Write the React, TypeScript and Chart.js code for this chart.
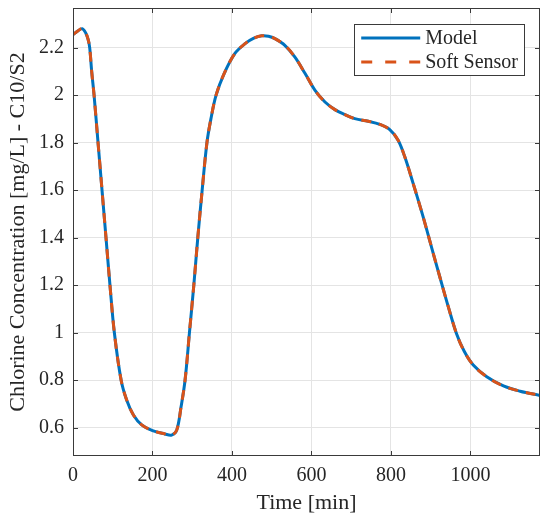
import React, { useEffect, useRef } from "react";
import { Chart, registerables } from "chart.js";

Chart.register(...registerables);

// ---- data ----
const timeMin = [
  0, 12, 23, 32, 38, 42, 47, 53, 63, 73, 83, 93, 104, 121, 135, 152, 173, 200, 231, 248,
  261, 272, 282, 293, 304, 314, 325, 337, 347, 360, 380, 407, 433, 455, 475, 492, 508,
  533, 558, 584, 609, 634, 659, 684, 709, 743, 772, 797, 818, 835, 856, 881, 902, 923,
  944, 965, 984, 1007, 1041, 1083, 1125, 1175,
];
const modelValues = [
  2.255, 2.27, 2.28, 2.262, 2.235, 2.2, 2.1, 2.0, 1.8, 1.6, 1.4, 1.2, 1.0, 0.8, 0.716,
  0.653, 0.611, 0.587, 0.573, 0.568, 0.589, 0.688, 0.8, 1.0, 1.2, 1.4, 1.6, 1.8, 1.9, 2.0,
  2.09, 2.175, 2.217, 2.24, 2.25, 2.248, 2.238, 2.21, 2.161, 2.091, 2.02, 1.971, 1.939,
  1.918, 1.901, 1.89, 1.877, 1.855, 1.81, 1.739, 1.627, 1.487, 1.36, 1.234, 1.11, 0.995,
  0.922, 0.863, 0.814, 0.775, 0.753, 0.735,
];
const softSensorValues = [
  2.255, 2.27, 2.28, 2.262, 2.235, 2.2, 2.1, 2.0, 1.8, 1.6, 1.4, 1.2, 1.0, 0.8, 0.716,
  0.653, 0.611, 0.587, 0.573, 0.568, 0.589, 0.688, 0.8, 1.0, 1.2, 1.4, 1.6, 1.8, 1.9, 2.0,
  2.09, 2.175, 2.217, 2.24, 2.25, 2.248, 2.238, 2.21, 2.161, 2.091, 2.02, 1.971, 1.939,
  1.918, 1.901, 1.89, 1.877, 1.855, 1.81, 1.739, 1.627, 1.487, 1.36, 1.234, 1.11, 0.995,
  0.922, 0.863, 0.814, 0.775, 0.753, 0.735,
];
const seriesLabels = ["Model", "Soft Sensor"];
const xTicks = [0, 200, 400, 600, 800, 1000];
const yTicks = [0.6, 0.8, 1, 1.2, 1.4, 1.6, 1.8, 2, 2.2];
const xRange = [0, 1175];
const yRange = [0.48, 2.367];
const xTitle = "Time [min]";
const yTitle = "Chlorine Concentration [mg/L] - C10/S2";

// ---- styles ----
const FONT = "'Liberation Serif', 'Times New Roman', serif";
const TEXT = "#262626";
const AXIS = "#3a3a3a";
const GRID = "#e4e4e4";
const BLUE = "#0072BD";
const ORANGE = "#D95319";

const framePlugin = {
  id: "frame",
  afterDatasetsDraw(chart: any) {
    const { ctx, chartArea: a, scales } = chart;
    ctx.save();
    ctx.strokeStyle = AXIS;
    ctx.lineWidth = 1;
    ctx.beginPath();
    const tl = 5;
    for (const v of xTicks) {
      const px = Math.round(scales.x.getPixelForValue(v)) + 0.5;
      ctx.moveTo(px, a.bottom);
      ctx.lineTo(px, a.bottom - tl);
      ctx.moveTo(px, a.top);
      ctx.lineTo(px, a.top + tl);
    }
    for (const v of yTicks) {
      const py = Math.round(scales.y.getPixelForValue(v)) + 0.5;
      ctx.moveTo(a.left, py);
      ctx.lineTo(a.left + tl, py);
      ctx.moveTo(a.right, py);
      ctx.lineTo(a.right - tl, py);
    }
    ctx.stroke();
    ctx.strokeRect(a.left + 0.5, a.top + 0.5, a.right - a.left - 1, a.bottom - a.top - 1);
    ctx.restore();
  },
  afterDraw(chart: any) {
    const { ctx, chartArea: a } = chart;
    const ds = chart.data.datasets;
    ctx.save();
    ctx.font = `20px ${FONT}`;
    const textW = Math.max(...ds.map((d: any) => ctx.measureText(d.label).width));
    const sample = 59;
    const padL = 7, gap = 5, padR = 6;
    const w = padL + sample + gap + textW + padR;
    const rowH = 24;
    const h = 51;
    const right = a.right - 16;
    const left = right - w;
    const top = a.top + 16;
    ctx.fillStyle = "#ffffff";
    ctx.fillRect(left, top, w, h);
    ctx.strokeStyle = AXIS;
    ctx.lineWidth = 1;
    ctx.setLineDash([]);
    ctx.strokeRect(Math.round(left) + 0.5, Math.round(top) + 0.5, Math.round(w), h);
    ds.forEach((d: any, i: number) => {
      const cy = top + 14 + i * rowH;
      ctx.beginPath();
      ctx.strokeStyle = d.borderColor;
      ctx.lineWidth = d.borderWidth;
      ctx.setLineDash(d.borderDash && d.borderDash.length ? [11, 13] : []);
      ctx.moveTo(left + padL, cy);
      ctx.lineTo(left + padL + sample, cy);
      ctx.stroke();
      ctx.setLineDash([]);
      ctx.fillStyle = TEXT;
      ctx.textBaseline = "middle";
      ctx.textAlign = "left";
      ctx.fillText(d.label, left + padL + sample + gap, cy + 1);
    });
    ctx.restore();
  },
};

export default function App() {
  const ref = useRef<HTMLCanvasElement | null>(null);

  useEffect(() => {
    if (!ref.current) return;
    const chart = new Chart(ref.current, {
      type: "line",
      data: {
        datasets: [
          {
            label: seriesLabels[0],
            data: timeMin.map((t, i) => ({ x: t, y: modelValues[i] })),
            borderColor: BLUE,
            borderWidth: 3,
            pointRadius: 0,
            tension: 0.35,
            fill: false,
            order: 2,
          },
          {
            label: seriesLabels[1],
            data: timeMin.map((t, i) => ({ x: t, y: softSensorValues[i] })),
            borderColor: ORANGE,
            borderWidth: 3,
            borderDash: [10, 8],
            pointRadius: 0,
            tension: 0.35,
            fill: false,
            order: 1,
          },
        ],
      },
      options: {
        animation: false,
        responsive: false,
        devicePixelRatio: 1,
        layout: { padding: { top: 8, right: 10, left: 0, bottom: 0 } },
        plugins: {
          legend: { display: false },
          tooltip: { enabled: false },
        },
        scales: {
          x: {
            type: "linear",
            min: xRange[0],
            max: xRange[1],
            afterBuildTicks: (s: any) => {
              s.ticks = xTicks.map((v) => ({ value: v }));
            },
            afterFit: (s: any) => {
              s.height = 72;
              s.paddingLeft = 0;
              s.paddingRight = 0;
              s.paddingTop = 0;
              s.paddingBottom = 0;
            },
            grid: { color: GRID, lineWidth: 1, drawTicks: false },
            border: { display: false },
            ticks: {
              color: TEXT,
              font: { family: FONT, size: 20 },
              padding: 8,
              maxRotation: 0,
              callback: (v: any) => String(v),
            },
            title: {
              display: true,
              text: xTitle,
              color: TEXT,
              font: { family: FONT, size: 22 },
              padding: { top: 0, bottom: 12 },
            },
          },
          y: {
            type: "linear",
            min: yRange[0],
            max: yRange[1],
            afterBuildTicks: (s: any) => {
              s.ticks = yTicks.map((v) => ({ value: v }));
            },
            afterFit: (s: any) => {
              s.width = 73;
              s.paddingLeft = 0;
              s.paddingRight = 0;
              s.paddingTop = 0;
              s.paddingBottom = 0;
            },
            grid: { color: GRID, lineWidth: 1, drawTicks: false },
            border: { display: false },
            ticks: {
              color: TEXT,
              font: { family: FONT, size: 20 },
              padding: 9,
              callback: (v: any) => String(v),
            },
            title: {
              display: true,
              text: yTitle,
              color: TEXT,
              font: { family: FONT, size: 22 },
              padding: { top: 5, bottom: 0 },
            },
          },
        },
      },
      plugins: [framePlugin],
    });
    return () => chart.destroy();
  }, []);

  return (
    <div style={{ position: "fixed", left: 0, top: 0, width: 550, height: 528, background: "#fff" }}>
      <canvas ref={ref} width={550} height={528} style={{ display: "block", width: 550, height: 528 }} />
    </div>
  );
}
